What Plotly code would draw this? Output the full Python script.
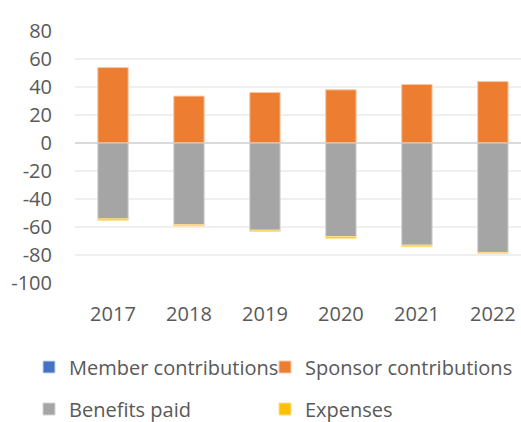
import plotly.graph_objects as go

years = ["2017", "2018", "2019", "2020", "2021", "2022"]
member_contributions = [0, 0, 0, 0, 0, 0]
sponsor_contributions = [53.9, 33.5, 36.1, 38.0, 41.8, 43.9]
benefits_paid = [-54.2, -58.4, -62.3, -66.8, -73.0, -78.2]
expenses = [-1.0, -0.8, -0.9, -1.2, -1.1, -0.7]
y_ticks = [80, 60, 40, 20, 0, -20, -40, -60, -80, -100]
y_tick_text = ["80", "60", "40", "20", "0", "-20", "-40", "-60", "-80", "-100"]

txt = "#595959"
font_family = "Open Sans, Noto Sans, sans-serif"
W, H = 521, 422

fig = go.Figure()
fig.add_bar(x=years, y=member_contributions, name="Member contributions",
            marker=dict(color="#4472C4", line=dict(color="#c9d4ee", width=1)),
            legend="legend")
fig.add_bar(x=years, y=sponsor_contributions, name="Sponsor contributions",
            marker=dict(color="#ED7D31", line=dict(color="#f7c9a9", width=1)),
            legend="legend2")
fig.add_bar(x=years, y=benefits_paid, name="Benefits paid",
            marker=dict(color="#A5A5A5", line=dict(color="#d4d4d4", width=1)),
            legend="legend3")
fig.add_bar(x=years, y=expenses, name="Expenses",
            marker=dict(color="#FFC000", line=dict(color="#ffe08a", width=1)),
            legend="legend4")


def leg(px, py):
    return dict(orientation="h", xref="container", yref="container",
                x=px / W, y=1 - py / H,
                xanchor="left", yanchor="middle",
                font=dict(family=font_family, size=20, color=txt),
                bgcolor="rgba(0,0,0,0)", itemclick=False,
                itemdoubleclick=False)


fig.update_layout(
    width=W, height=H,
    margin=dict(l=75, r=0, t=31, b=H - 283.5, autoexpand=False),
    paper_bgcolor="white", plot_bgcolor="white",
    barmode="relative", bargap=0.6,
    font=dict(family=font_family, size=19, color=txt),
    showlegend=True,
    hovermode=False,
    legend=leg(29, 367),
    legend2=leg(265, 367),
    legend3=leg(29, 409),
    legend4=leg(265, 409),
    xaxis=dict(type="category", range=[-0.5, 5.37], showgrid=False,
               showline=False, ticks="", ticklabelstandoff=17,
               automargin=False, fixedrange=True,
               tickfont=dict(size=20, color=txt)),
    yaxis=dict(range=[-100, 80], tickvals=y_ticks, ticktext=y_tick_text,
               showgrid=True, automargin=False, fixedrange=True,
               gridcolor="#efefef", gridwidth=1.5, zeroline=True,
               zerolinecolor="#dadada", zerolinewidth=2,
               ticks="", ticklabelstandoff=22,
               tickfont=dict(size=20, color=txt)),
)

fig.write_html(
    "out.html",
    config={"displayModeBar": False},
    post_script="document.body.style.margin='0';"
                "document.body.style.overflow='hidden';",
)
